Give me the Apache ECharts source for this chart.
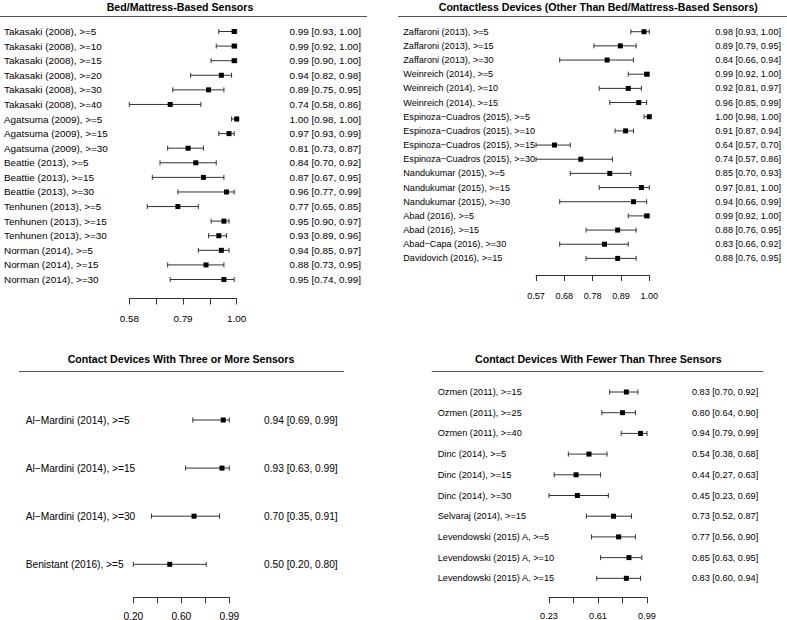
<!DOCTYPE html>
<html>
<head>
<meta charset="utf-8">
<script src="https://cdn.jsdelivr.net/npm/echarts@6/dist/echarts.min.js"></script>
<style>
html,body{margin:0;padding:0;background:#fff;}
#chart{width:787px;height:620px;}
</style>
</head>
<body>
<div id="chart"></div>
<script>
// ---------- DATA ----------
const title1 = "Bed/Mattress-Based Sensors";
const labels1 = ["Takasaki (2008), >=5","Takasaki (2008), >=10","Takasaki (2008), >=15","Takasaki (2008), >=20","Takasaki (2008), >=30","Takasaki (2008), >=40","Agatsuma (2009), >=5","Agatsuma (2009), >=15","Agatsuma (2009), >=30","Beattie (2013), >=5","Beattie (2013), >=15","Beattie (2013), >=30","Tenhunen (2013), >=5","Tenhunen (2013), >=15","Tenhunen (2013), >=30","Norman (2014), >=5","Norman (2014), >=15","Norman (2014), >=30"];
const est1 = [0.99,0.99,0.99,0.94,0.89,0.74,1.00,0.97,0.81,0.84,0.87,0.96,0.77,0.95,0.93,0.94,0.88,0.95];
const lo1  = [0.93,0.92,0.90,0.82,0.75,0.58,0.98,0.93,0.73,0.70,0.67,0.77,0.65,0.90,0.89,0.85,0.73,0.74];
const hi1  = [1.00,1.00,1.00,0.98,0.95,0.86,1.00,0.99,0.87,0.92,0.95,0.99,0.85,0.97,0.96,0.97,0.95,0.99];
const ticks1 = [0.58,0.685,0.79,0.895,1.00];
const tickLabels1 = ["0.58","","0.79","","1.00"];

const title2 = "Contactless Devices (Other Than Bed/Mattress-Based Sensors)";
const labels2 = ["Zaffaroni (2013), >=5","Zaffaroni (2013), >=15","Zaffaroni (2013), >=30","Weinreich (2014), >=5","Weinreich (2014), >=10","Weinreich (2014), >=15","Espinoza\u2212Cuadros (2015), >=5","Espinoza\u2212Cuadros (2015), >=10","Espinoza\u2212Cuadros (2015), >=15","Espinoza\u2212Cuadros (2015), >=30","Nandukumar (2015), >=5","Nandukumar (2015), >=15","Nandukumar (2015), >=30","Abad (2016), >=5","Abad (2016), >=15","Abad\u2212Capa (2016), >=30","Davidovich (2016), >=15"];
const est2 = [0.98,0.89,0.84,0.99,0.92,0.96,1.00,0.91,0.64,0.74,0.85,0.97,0.94,0.99,0.88,0.83,0.88];
const lo2  = [0.93,0.79,0.66,0.92,0.81,0.85,0.98,0.87,0.57,0.57,0.70,0.81,0.66,0.92,0.76,0.66,0.76];
const hi2  = [1.00,0.95,0.94,1.00,0.97,0.99,1.00,0.94,0.70,0.86,0.93,1.00,0.99,1.00,0.95,0.92,0.95];
const ticks2 = [0.57,0.6775,0.785,0.8925,1.00];
const tickLabels2 = ["0.57","0.68","0.78","0.89","1.00"];

const title3 = "Contact Devices With Three or More Sensors";
const labels3 = ["Al\u2212Mardini (2014), >=5","Al\u2212Mardini (2014), >=15","Al\u2212Mardini (2014), >=30","Benistant (2016), >=5"];
const est3 = [0.94,0.93,0.70,0.50];
const lo3  = [0.69,0.63,0.35,0.20];
const hi3  = [0.99,0.99,0.91,0.80];
const ticks3 = [0.20,0.3975,0.595,0.7925,0.99];
const tickLabels3 = ["0.20","","0.60","","0.99"];

const title4 = "Contact Devices With Fewer Than Three Sensors";
const labels4 = ["Ozmen (2011), >=15","Ozmen (2011), >=25","Ozmen (2011), >=40","Dinc (2014), >=5","Dinc (2014), >=15","Dinc (2014), >=30","Selvaraj (2014), >=15","Levendowski (2015) A, >=5","Levendowski (2015) A, >=10","Levendowski (2015) A, >=15"];
const est4 = [0.83,0.80,0.94,0.54,0.44,0.45,0.73,0.77,0.85,0.83];
const lo4  = [0.70,0.64,0.79,0.38,0.27,0.23,0.52,0.56,0.63,0.60];
const hi4  = [0.92,0.90,0.99,0.68,0.63,0.69,0.87,0.90,0.95,0.94];
const ticks4 = [0.23,0.42,0.61,0.80,0.99];
const tickLabels4 = ["0.23","","0.61","","0.99"];

// ---------- LAYOUT ----------
const FONT = "Liberation Sans, Arial, Helvetica, sans-serif";
const panels = [
  {title:title1, labels:labels1, est:est1, lo:lo1, hi:hi1, ticks:ticks1, tickLabels:tickLabels1, fs:9.9, tickMargin:14.5,
   left:129.3, width:107.4, top:31.5, height:248, axisOffset:19, labelX:4, textRight:361, titleX:180, titleY:6.5,
   rule:[0,16.5,367,16.5]},
  {title:title2, labels:labels2, est:est2, lo:lo2, hi:hi2, ticks:ticks2, tickLabels:tickLabels2, fs:9.1, tickMargin:16,
   left:536, width:113.3, top:31.7, height:226.7, axisOffset:16.6, labelX:403.3, textRight:781, titleX:598.3, titleY:6.5,
   rule:[398,16.5,787,16.5]},
  {title:title3, labels:labels3, est:est3, lo:lo3, hi:hi3, ticks:ticks3, tickLabels:tickLabels3, fs:10.2, tickMargin:13.7,
   left:133.3, width:96, top:420, height:144.3, axisOffset:33, labelX:25.7, textRight:337.7, titleX:181, titleY:359,
   rule:[19,371.5,344,371.5]},
  {title:title4, labels:labels4, est:est4, lo:lo4, hi:hi4, ticks:ticks4, tickLabels:tickLabels4, fs:9.2, tickMargin:14,
   left:549, width:98, top:392, height:186.3, axisOffset:19, labelX:437.7, textRight:758.3, titleX:598.3, titleY:359,
   rule:[431.7,371.5,763.3,371.5]}
];

const fmt = v => v.toFixed(2);
const option = {
  animation:false,
  backgroundColor:'#fff',
  grid:[], xAxis:[], yAxis:[], series:[], graphic:[]
};

panels.forEach((p, k) => {
  const statText = p.est.map((e,i) => `${fmt(e)} [${fmt(p.lo[i])}, ${fmt(p.hi[i])}]`);
  option.graphic.push({
    type:'text', silent:true, x:p.titleX, y:p.titleY,
    style:{text:p.title, align:'center', verticalAlign:'middle', fill:'#000',
      font:`bold 10.6px ${FONT}`}
  });
  option.grid.push({left:p.left, top:p.top, width:p.width, height:p.height, outerBoundsMode:'none', containLabel:false});
  option.xAxis.push({
    type:'value', gridIndex:k, min:p.ticks[0], max:p.ticks[p.ticks.length-1], position:'bottom', offset:p.axisOffset,
    axisLine:{show:true, lineStyle:{color:'#333', width:1}},
    axisTick:{show:true, inside:false, length:6, lineStyle:{color:'#333', width:1}, customValues:p.ticks},
    axisLabel:{show:true, customValues:p.ticks, margin:p.tickMargin, color:'#000', fontFamily:FONT, fontSize:p.fs,
      formatter:(v)=>{ let best=0; p.ticks.forEach((t,i)=>{ if(Math.abs(t-v)<Math.abs(p.ticks[best]-v)) best=i; }); return p.tickLabels[best]; }},
    splitLine:{show:false}
  });
  option.yAxis.push({
    type:'category', gridIndex:k, data:p.labels, inverse:true, boundaryGap:false, position:'left',
    axisLine:{show:false}, axisTick:{show:false}, splitLine:{show:false},
    axisLabel:{show:true, interval:0, align:'left', margin:p.left-p.labelX, color:'#000', fontFamily:FONT, fontSize:p.fs, hideOverlap:false}
  });
  option.yAxis.push({
    type:'category', gridIndex:k, data:statText, inverse:true, boundaryGap:false, position:'right',
    axisLine:{show:false}, axisTick:{show:false}, splitLine:{show:false},
    axisLabel:{show:true, interval:0, align:'right', margin:p.textRight-(p.left+p.width), color:'#000', fontFamily:FONT, fontSize:p.fs, hideOverlap:false}
  });
  const yIdx = 2*k;
  option.series.push({
    type:'custom', xAxisIndex:k, yAxisIndex:yIdx, silent:true,
    data:p.lo.map((l,i)=>[l, p.hi[i], i]),
    encode:{x:[0,1], y:2},
    renderItem:(params, api)=>{
      const a = api.coord([api.value(0), api.value(2)]);
      const b = api.coord([api.value(1), api.value(2)]);
      const h = 2.5;
      const st = {stroke:'#333', lineWidth:1, fill:null};
      return {type:'group', children:[
        {type:'line', shape:{x1:a[0], y1:a[1], x2:b[0], y2:b[1]}, style:st},
        {type:'line', shape:{x1:a[0], y1:a[1]-h, x2:a[0], y2:a[1]+h}, style:st},
        {type:'line', shape:{x1:b[0], y1:b[1]-h, x2:b[0], y2:b[1]+h}, style:st}
      ]};
    }
  });
  option.series.push({
    type:'scatter', xAxisIndex:k, yAxisIndex:yIdx, silent:true, symbol:'rect', symbolSize:5,
    itemStyle:{color:'#000', opacity:1},
    data:p.est.map((e,i)=>[e, i]), z:5
  });
  option.graphic.push({type:'line', silent:true, shape:{x1:p.rule[0], y1:p.rule[1], x2:p.rule[2], y2:p.rule[3]}, style:{stroke:'#555', lineWidth:1}});
});

const chart = echarts.init(document.getElementById('chart'), null, {renderer:'svg', width:787, height:620});
chart.setOption(option);
</script>
</body>
</html>
